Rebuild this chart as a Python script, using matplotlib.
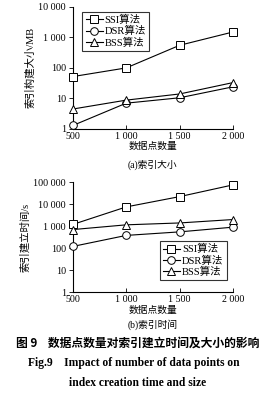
import matplotlib
matplotlib.use("Agg")
import matplotlib.pyplot as plt
from matplotlib.ticker import FixedLocator, FuncFormatter, NullLocator

plt.rcParams['font.family'] = ['Liberation Serif', 'Noto Sans CJK SC']
plt.rcParams['axes.linewidth'] = 0.8

n_points = [500, 1000, 1500, 2000]
labels = ['SSI算法', 'DSR算法', 'BSS算法']
markers = ['s', 'o', '^']

# (a) index size, MB
size_ssi = [52, 100, 550, 1500]
size_dsr = [1.3, 7, 10.5, 24]
size_bss = [4.5, 8.8, 14, 33]

# (b) index creation time, s
time_ssi = [1200, 7500, 22000, 75000]
time_dsr = [120, 380, 550, 900]
time_bss = [700, 1150, 1400, 2000]


def fmt(v, pos):
    return f"{v:,.0f}".replace(",", " ")


def style(ax, ymax):
    ax.set_yscale('log')
    ax.set_xlim(500, 2000)
    ax.set_ylim(1, ymax)
    ax.spines['top'].set_visible(False)
    ax.spines['right'].set_visible(False)
    ax.xaxis.set_major_locator(FixedLocator(n_points))
    ax.xaxis.set_major_formatter(FuncFormatter(fmt))
    ticks = [10 ** k for k in range(0, len(str(ymax)))]
    ax.yaxis.set_major_locator(FixedLocator(ticks))
    ax.yaxis.set_major_formatter(FuncFormatter(fmt))
    ax.yaxis.set_minor_locator(NullLocator())
    ax.tick_params(axis='x', direction='in', length=3, width=0.6, labelsize=7.2, pad=2)
    ax.tick_params(axis='y', direction='out', length=3, width=0.6, labelsize=7.2, pad=2)
    ax.set_xlabel('数据点数量', fontsize=7, labelpad=1)


def draw(ax, series):
    for ys, lab, m in zip(series, labels, markers):
        ax.plot(n_points, ys, color='black', lw=0.8, marker=m, ms=5.5,
                mfc='white', mec='black', mew=0.7, label=lab, clip_on=False, zorder=3)


fig = plt.figure(figsize=(2.76, 4.03), dpi=100)

ax1 = fig.add_axes([0.264, 0.680, 0.58, 0.303])
draw(ax1, [size_ssi, size_dsr, size_bss])
style(ax1, 10000)
ax1.set_ylabel('索引构建大小/MB', fontsize=7.5, labelpad=2)
leg1 = ax1.legend(loc='upper left', bbox_to_anchor=(0.06, 0.96), fontsize=7.6,
                  frameon=True, fancybox=False, edgecolor='black', handlelength=1.6,
                  handletextpad=0.2, borderpad=0.3, labelspacing=0.1, borderaxespad=0)
leg1.get_frame().set_linewidth(0.8)

ax2 = fig.add_axes([0.264, 0.275, 0.58, 0.273])
draw(ax2, [time_ssi, time_dsr, time_bss])
style(ax2, 100000)
ax2.set_ylabel('索引建立时间/s', fontsize=7.5, labelpad=2)
leg2 = ax2.legend(loc='lower right', bbox_to_anchor=(0.96, 0.11), fontsize=7.6,
                  frameon=True, fancybox=False, edgecolor='black', handlelength=1.6,
                  handletextpad=0.2, borderpad=0.3, labelspacing=0.1, borderaxespad=0)
leg2.get_frame().set_linewidth(0.8)

fig.text(0.553, 1 - 165 / 403, '(a)索引大小', ha='center', va='center', fontsize=7)
fig.text(0.553, 1 - 325 / 403, '(b)索引时间', ha='center', va='center', fontsize=7)

fig.text(0.5, 1 - 343 / 403, '图 9    数据点数量对索引建立时间及大小的影响', ha='center', va='center',
         fontsize=8.5, fontweight='bold', family=['Noto Sans CJK SC', 'DejaVu Sans'])
fig.text(0.485, 1 - 363 / 403, 'Fig.9    Impact of number of data points on', ha='center',
         va='center', fontsize=8.3, fontweight='bold')
fig.text(0.5, 1 - 383 / 403, 'index creation time and size', ha='center',
         va='center', fontsize=8.3, fontweight='bold')

fig.savefig('out.png', dpi=100)
